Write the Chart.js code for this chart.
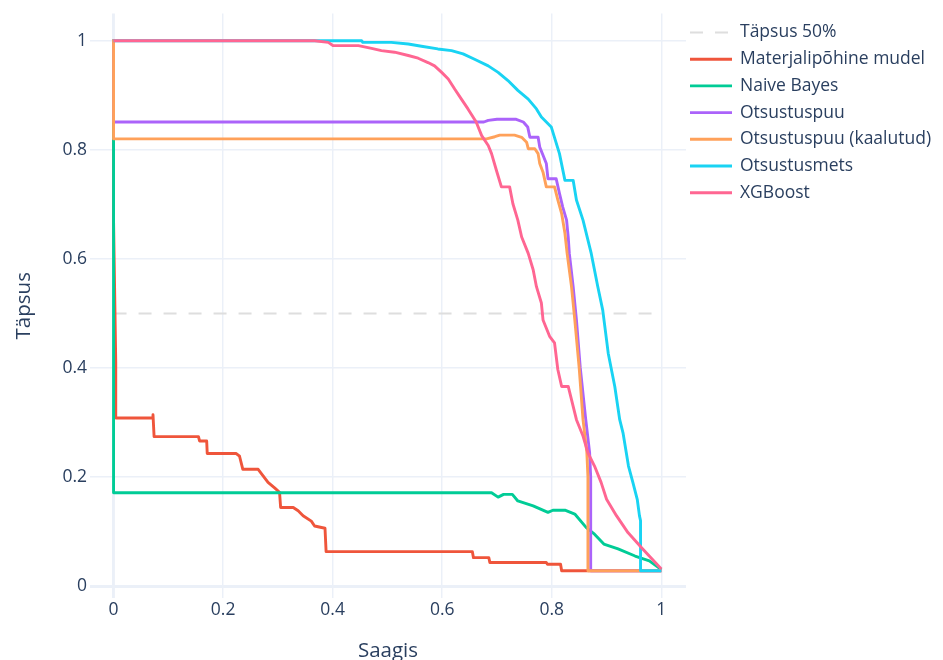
<!DOCTYPE html>
<html>
<head>
<meta charset="utf-8">
<script src="https://cdn.jsdelivr.net/npm/chart.js@4/dist/chart.umd.min.js"></script>
<style>
html,body{margin:0;padding:0;background:#fff;}
#wrap{width:943px;height:660px;position:relative;}
</style>
</head>
<body>
<div id="wrap"><canvas id="c" width="943" height="660"></canvas></div>
<script>
// ---- Data ----
const seriesNames = ['Täpsus 50%', 'Materjalipõhine mudel', 'Naive Bayes', 'Otsustuspuu', 'Otsustuspuu (kaalutud)', 'Otsustusmets', 'XGBoost'];
const seriesColors = ['#dedede', '#EF553B', '#00CC96', '#AB63FA', '#FFA15A', '#19D3F3', '#FF6692'];

const xTickValues = [0, 0.2, 0.4, 0.6, 0.8, 1];
const xTickLabels = ['0', '0.2', '0.4', '0.6', '0.8', '1'];
const yTickValues = [0, 0.2, 0.4, 0.6, 0.8, 1];
const yTickLabels = ['0', '0.2', '0.4', '0.6', '0.8', '1'];

const baselineRecall = [0, 1];
const baselinePrecision = [0.5, 0.5];

const materjalRecall = [0, 0, 0.004, 0.004, 0.071, 0.072, 0.074, 0.155, 0.157, 0.17, 0.171, 0.224, 0.23, 0.236, 0.264, 0.273, 0.282, 0.294, 0.303, 0.305, 0.328, 0.337, 0.346, 0.361, 0.367, 0.386, 0.388, 0.655, 0.657, 0.685, 0.687, 0.79, 0.792, 0.816, 0.818, 1.0];
const materjalPrecision = [1, 0.67, 0.41, 0.308, 0.308, 0.314, 0.274, 0.274, 0.266, 0.266, 0.243, 0.243, 0.238, 0.214, 0.214, 0.202, 0.19, 0.18, 0.172, 0.144, 0.144, 0.138, 0.129, 0.119, 0.11, 0.106, 0.063, 0.063, 0.052, 0.052, 0.043, 0.043, 0.04, 0.04, 0.028, 0.028];

const bayesRecall = [0, 0, 0.69, 0.702, 0.712, 0.728, 0.738, 0.766, 0.793, 0.802, 0.824, 0.842, 0.863, 0.878, 0.895, 0.921, 0.952, 0.978, 1.0];
const bayesPrecision = [1, 0.171, 0.171, 0.163, 0.168, 0.168, 0.156, 0.147, 0.135, 0.139, 0.139, 0.132, 0.107, 0.095, 0.077, 0.068, 0.055, 0.046, 0.03];

const puuRecall = [0, 0, 0.676, 0.684, 0.70, 0.735, 0.748, 0.756, 0.76, 0.775, 0.778, 0.784, 0.79, 0.793, 0.808, 0.814, 0.82, 0.827, 0.83, 0.832, 0.839, 0.845, 0.852, 0.862, 0.869, 0.871, 0.871, 1.0];
const puuPrecision = [1, 0.851, 0.851, 0.854, 0.856, 0.856, 0.851, 0.842, 0.823, 0.823, 0.805, 0.79, 0.775, 0.747, 0.747, 0.72, 0.695, 0.671, 0.64, 0.61, 0.549, 0.488, 0.4, 0.305, 0.245, 0.2, 0.028, 0.028];

const puuKaalRecall = [0, 0, 0.681, 0.696, 0.705, 0.732, 0.745, 0.754, 0.757, 0.769, 0.775, 0.778, 0.784, 0.79, 0.805, 0.811, 0.818, 0.824, 0.828, 0.836, 0.842, 0.85, 0.857, 0.864, 0.866, 0.866, 1.0];
const puuKaalPrecision = [1, 0.82, 0.82, 0.824, 0.827, 0.827, 0.823, 0.814, 0.802, 0.802, 0.793, 0.775, 0.759, 0.732, 0.732, 0.708, 0.683, 0.647, 0.61, 0.549, 0.488, 0.4, 0.305, 0.245, 0.2, 0.028, 0.028];

const metsRecall = [0, 0.453, 0.455, 0.507, 0.538, 0.562, 0.592, 0.617, 0.638, 0.659, 0.684, 0.702, 0.72, 0.738, 0.757, 0.772, 0.781, 0.799, 0.814, 0.824, 0.839, 0.845, 0.857, 0.872, 0.884, 0.893, 0.9, 0.903, 0.915, 0.924, 0.93, 0.94, 0.948, 0.956, 0.96, 0.962, 0.962, 1.0];
const metsPrecision = [1, 1, 0.997, 0.997, 0.994, 0.99, 0.985, 0.982, 0.976, 0.966, 0.954, 0.942, 0.927, 0.909, 0.893, 0.875, 0.86, 0.842, 0.793, 0.744, 0.744, 0.708, 0.671, 0.61, 0.549, 0.506, 0.451, 0.427, 0.366, 0.305, 0.281, 0.22, 0.19, 0.159, 0.129, 0.12, 0.028, 0.028];

const xgbRecall = [0, 0.367, 0.392, 0.401, 0.447, 0.471, 0.489, 0.513, 0.538, 0.556, 0.574, 0.586, 0.599, 0.611, 0.623, 0.635, 0.647, 0.662, 0.672, 0.684, 0.69, 0.699, 0.708, 0.723, 0.729, 0.738, 0.745, 0.757, 0.766, 0.772, 0.781, 0.784, 0.796, 0.805, 0.811, 0.818, 0.83, 0.845, 0.857, 0.866, 0.878, 0.89, 0.9, 0.918, 0.939, 0.966, 1.0];
const xgbPrecision = [1, 1, 0.997, 0.991, 0.991, 0.986, 0.982, 0.979, 0.973, 0.968, 0.96, 0.954, 0.942, 0.93, 0.911, 0.893, 0.875, 0.851, 0.826, 0.808, 0.793, 0.762, 0.732, 0.732, 0.701, 0.671, 0.64, 0.61, 0.58, 0.549, 0.519, 0.488, 0.458, 0.446, 0.397, 0.366, 0.366, 0.305, 0.275, 0.244, 0.22, 0.19, 0.159, 0.129, 0.098, 0.068, 0.031];

// ---- Build datasets ----
const recallSets = [baselineRecall, materjalRecall, bayesRecall, puuRecall, puuKaalRecall, metsRecall, xgbRecall];
const precisionSets = [baselinePrecision, materjalPrecision, bayesPrecision, puuPrecision, puuKaalPrecision, metsPrecision, xgbPrecision];

const TEXT_COLOR = '#2a3f5f';
const FONT = '"Open Sans", Verdana, Arial, sans-serif';
const GRID = '#EBF0F8';

const datasets = seriesNames.map((name, i) => ({
  label: name,
  data: recallSets[i].map((x, j) => ({x: x, y: precisionSets[i][j]})),
  borderColor: seriesColors[i],
  backgroundColor: seriesColors[i],
  borderWidth: i === 0 ? 2 : 2.9,
  borderDash: i === 0 ? [13, 12] : [],
  borderJoinStyle: 'round',
  showLine: true,
  pointRadius: 0,
  pointHoverRadius: 0,
  tension: 0,
  fill: false,
  order: seriesNames.length - 1 - i
}));

const legendPlugin = {
  id: 'customLegend',
  afterDraw(chart) {
    const ctx = chart.ctx;
    ctx.save();
    ctx.font = '17.5px ' + FONT;
    ctx.textBaseline = 'middle';
    ctx.textAlign = 'left';
    const y0 = 32.5, step = 26.7;
    seriesNames.forEach((name, i) => {
      const y = y0 + i * step;
      ctx.beginPath();
      ctx.strokeStyle = seriesColors[i];
      ctx.lineWidth = i === 0 ? 2 : 2.9;
      ctx.setLineDash(i === 0 ? [13, 12] : []);
      ctx.moveTo(690, y);
      ctx.lineTo(732, y);
      ctx.stroke();
      ctx.setLineDash([]);
      ctx.fillStyle = TEXT_COLOR;
      ctx.fillText(name, 740, y);
    });
    ctx.restore();
  }
};

const gridWidth = (ctx) => (ctx.tick && ctx.tick.value === 0) ? 2.9 : 1.47;

new Chart(document.getElementById('c'), {
  type: 'scatter',
  data: { datasets: datasets },
  options: {
    responsive: false,
    animation: false,
    devicePixelRatio: 1,
    layout: { padding: { top: 13, right: 257, left: 0, bottom: 0 } },
    plugins: { legend: { display: false }, tooltip: { enabled: false } },
    scales: {
      x: {
        type: 'linear',
        min: -0.043,
        max: 1.045,
        afterFit: (s) => { s.height = 62; },
        afterBuildTicks: (s) => { s.ticks = xTickValues.map(v => ({ value: v })); },
        ticks: {
          callback: (v, idx) => xTickLabels[idx],
          color: TEXT_COLOR,
          font: { family: FONT, size: 17.5 },
          padding: 2,
          maxRotation: 0,
          autoSkip: false
        },
        grid: { color: GRID, lineWidth: gridWidth, drawTicks: false },
        border: { display: false },
        title: { display: true, text: 'Saagis', color: TEXT_COLOR, font: { family: FONT, size: 20.5 }, padding: { top: 0, bottom: -3 } }
      },
      y: {
        type: 'linear',
        min: -0.022,
        max: 1.05,
        afterFit: (s) => { s.width = 90; },
        afterBuildTicks: (s) => { s.ticks = yTickValues.map(v => ({ value: v })); },
        ticks: {
          callback: (v, idx) => yTickLabels[idx],
          color: TEXT_COLOR,
          font: { family: FONT, size: 17.5 },
          padding: 3,
          autoSkip: false
        },
        grid: { color: GRID, lineWidth: gridWidth, drawTicks: false },
        border: { display: false },
        title: { display: true, text: 'Täpsus', color: TEXT_COLOR, font: { family: FONT, size: 20.5 }, padding: { top: 12, bottom: 0 } }
      }
    }
  },
  plugins: [legendPlugin]
});
</script>
</body>
</html>
